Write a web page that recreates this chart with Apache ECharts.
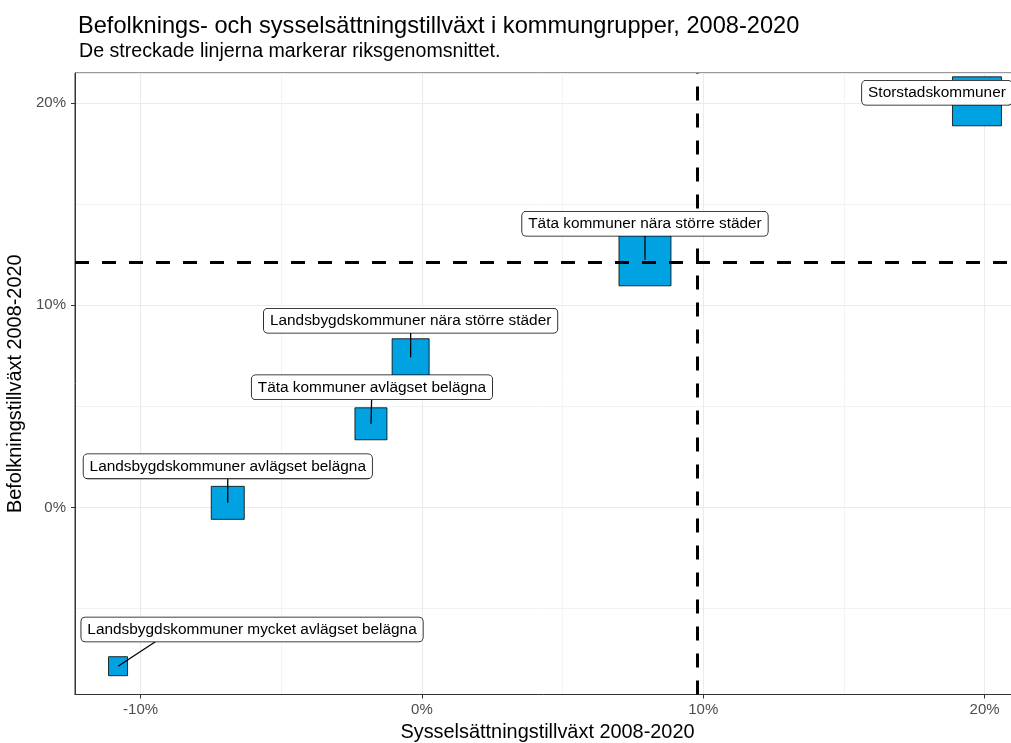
<!DOCTYPE html>
<html>
<head>
<meta charset="utf-8">
<script src="https://cdn.jsdelivr.net/npm/echarts@6/dist/echarts.min.js"></script>
<style>
  html, body { margin: 0; padding: 0; background: #fff; }
  #chart { width: 1011px; height: 743px; }
</style>
</head>
<body>
<div id="chart"></div>
<script>
var myChart = echarts.init(document.getElementById('chart'));

// data
var groups = ['Storstadskommuner', 'Täta kommuner nära större städer', 'Landsbygdskommuner nära större städer',
  'Täta kommuner avlägset belägna', 'Landsbygdskommuner avlägset belägna', 'Landsbygdskommuner mycket avlägset belägna'];
var jobGrowth = [19.73, 7.93, -0.40, -1.81, -6.90, -10.80];   // x, %
var popGrowth = [20.09, 12.25, 7.43, 4.14, 0.23, -7.85];     // y, %
var avgJobGrowth = 9.78;
var avgPopGrowth = 12.15;

// styling
var squareSize = [49, 52, 37, 32, 33, 19];
var labelOffset = [[-40, -8.5], [0, -36], [0, -36.5], [1, -36.5], [0, -36.5], [134, -36.7]];
var segmentShift = [0, 0, 0, 0, 0, -78];
var font = 'Liberation Sans, Arial, sans-serif';
var blue = '#00A2E1';

var points = jobGrowth.map(function (x, i) { return [x, popGrowth[i]]; });

var option = {
  backgroundColor: '#fff',
  animation: false,
  title: [{
    text: 'Befolknings- och sysselsättningstillväxt i kommungrupper, 2008-2020',
    left: 73, top: 9,
    textStyle: { fontFamily: font, fontSize: 23.6, fontWeight: 'normal', color: '#000' }
  }, {
    text: 'De streckade linjerna markerar riksgenomsnittet.',
    left: 74, top: 37,
    textStyle: { fontFamily: font, fontSize: 19.6, fontWeight: 'normal', color: '#000' }
  }],
  grid: {
    left: 75, top: 73, right: -9, bottom: 48.5,
    outerBoundsMode: 'none',
    containLabel: false,
    show: true, borderColor: '#333', borderWidth: 1
  },
  xAxis: {
    type: 'value',
    min: -12.33, max: 21.26, splitNumber: 3,
    name: 'Sysselsättningstillväxt 2008-2020',
    nameLocation: 'middle', nameGap: 26,
    nameTextStyle: { fontFamily: font, fontSize: 19.9, color: '#000' },
    axisLine: { show: true, onZero: false, lineStyle: { color: '#333', width: 1 } },
    axisTick: { show: true, length: 4, lineStyle: { color: '#333' } },
    axisLabel: {
      formatter: function (v) { return v + '%'; },
      fontFamily: font, fontSize: 15, color: '#4d4d4d', margin: 8,
      showMinLabel: false, showMaxLabel: false
    },
    splitLine: { show: true, lineStyle: { color: '#ebebeb', width: 1.1 } },
    minorTick: { show: false, splitNumber: 2 },
    minorSplitLine: { show: true, lineStyle: { color: '#f3f3f3', width: 1 } }
  },
  yAxis: {
    type: 'value',
    min: -9.25, max: 21.49, splitNumber: 3,
    name: 'Befolkningstillväxt 2008-2020',
    nameLocation: 'middle', nameGap: 41,
    nameTextStyle: { fontFamily: font, fontSize: 19.9, color: '#000' },
    axisLine: { show: true, onZero: false, lineStyle: { color: '#333', width: 1 } },
    axisTick: { show: true, length: 4, lineStyle: { color: '#333' } },
    axisLabel: {
      formatter: function (v) { return v + '%'; },
      fontFamily: font, fontSize: 15, color: '#4d4d4d', margin: 9,
      showMinLabel: false, showMaxLabel: false
    },
    splitLine: { show: true, lineStyle: { color: '#ebebeb', width: 1.1 } },
    minorTick: { show: false, splitNumber: 2 },
    minorSplitLine: { show: true, lineStyle: { color: '#f3f3f3', width: 1 } }
  },
  series: [{
    name: 'kommungrupper',
    type: 'scatter',
    z: 2,
    symbol: 'rect',
    symbolSize: function (val, params) { return squareSize[params.dataIndex]; },
    itemStyle: { color: blue, borderColor: '#000', borderWidth: 0.8, opacity: 1 },
    data: points
  }, {
    name: 'riksgenomsnitt',
    type: 'scatter',
    z: 3,
    data: [],
    markLine: {
      z: 3,
      silent: true,
      symbol: 'none',
      label: { show: false },
      lineStyle: { color: '#000', type: [14, 13], width: 3 },
      data: [{ xAxis: avgJobGrowth }, { yAxis: avgPopGrowth }]
    }
  }, {
    name: 'etiketter',
    type: 'custom',
    z: 10,
    clip: false,
    data: points,
    renderItem: function (params, api) {
      var i = params.dataIndex;
      var p = api.coord([api.value(0), api.value(1)]);
      var lx = p[0] + labelOffset[i][0];
      var ly = p[1] + labelOffset[i][1];
      return {
        type: 'group',
        children: [{
          type: 'line',
          z2: 1,
          shape: { x1: p[0], y1: p[1], x2: lx + segmentShift[i], y2: ly },
          style: { stroke: '#000', lineWidth: 1.3 }
        }, {
          type: 'text',
          z2: 2,
          x: lx, y: ly,
          style: {
            text: groups[i],
            align: 'center', verticalAlign: 'middle',
            fontFamily: font, fontSize: 15.4, fill: '#000',
            backgroundColor: '#fff', borderColor: '#000', borderWidth: 0.8,
            borderRadius: 4, padding: [5, 6, 4, 6]
          }
        }]
      };
    }
  }]
};

myChart.setOption(option);
</script>
</body>
</html>
